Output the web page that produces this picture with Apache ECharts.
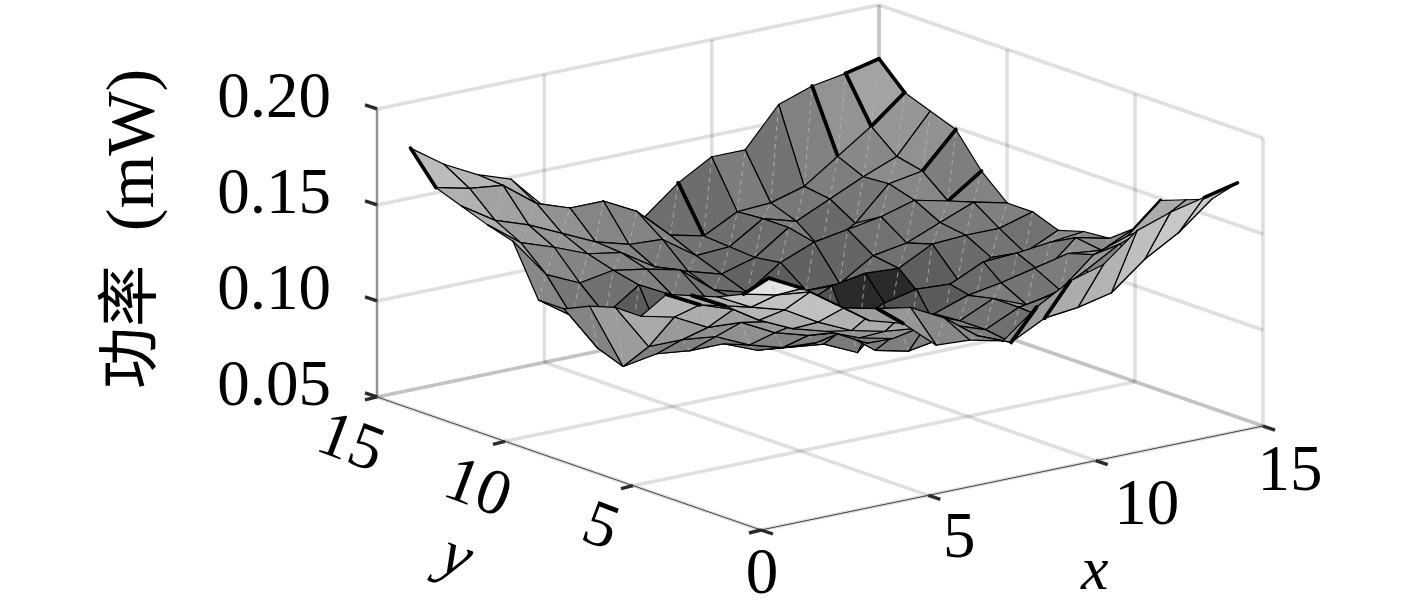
<!DOCTYPE html>
<html>
<head>
<meta charset="utf-8">
<title>功率</title>
<style>
  html, body { margin: 0; padding: 0; background: #fff; }
  #chart { width: 1417px; height: 602px; }
</style>
<script src="https://cdn.jsdelivr.net/npm/echarts@6/dist/echarts.min.js"></script>
</head>
<body>
<div id="chart"></div>
<script>
const xValues = [1, 2, 3, 4, 5, 6, 7, 8, 9, 10, 11, 12, 13, 14, 15]
const yValues = [1, 2, 3, 4, 5, 6, 7, 8, 9, 10, 11, 12, 13, 14, 15]

// power in mW, one row per y, columns follow xValues
const y1 = [.173, .164, .152, .140, .135, .120, .119, .115, .129, .139, .144, .158, .164, .168, .172]
const y2 = [.160, .156, .154, .142, .138, .135, .126, .113, .106, .115, .117, .121, .135, .145, .159]
const y3 = [.154, .145, .140, .130, .122, .118, .116, .114, .108, .116, .119, .128, .138, .144, .154]
const y4 = [.150, .141, .130, .122, .117, .110, .106, .115, .108, .116, .109, .113, .128, .134, .149]
const y5 = [.146, .137, .131, .121, .117, .108, .099, .102, .107, .113, .116, .120, .124, .122, .130]
const y6 = [.130, .126, .117, .116, .107, .102, .100, .087, .083, .086, .103, .103, .109, .124, .120]
const y7 = [.130, .106, .106, .104, .096, .091, .090, .096, .103, .107, .106, .114, .115, .117, .119]
const y8 = [.126, .091, .094, .092, .092, .085, .083, .081, .073, .090, .093, .100, .108, .107, .115]
const y9 = [.120, .096, .094, .090, .090, .090, .090, .095, .103, .106, .105, .114, .115, .115, .120]
const y10 = [.120, .108, .105, .117, .108, .103, .098, .094, .096, .096, .107, .110, .117, .124, .120]
const y11 = [.146, .125, .117, .120, .117, .113, .099, .094, .106, .113, .116, .119, .124, .120, .132]
const y12 = [.150, .137, .131, .124, .121, .110, .104, .099, .104, .116, .101, .111, .128, .131, .149]
const y13 = [.155, .144, .138, .130, .122, .117, .116, .104, .105, .116, .111, .119, .127, .134, .154]
const y14 = [.160, .156, .154, .141, .135, .135, .126, .110, .106, .115, .116, .121, .133, .145, .159]
const y15 = [.176, .164, .155, .149, .131, .124, .120, .115, .129, .139, .139, .159, .165, .168, .172]
const power = [y1, y2, y3, y4, y5, y6, y7, y8, y9, y10, y11, y12, y13, y14, y15]

const xTicks = [0, 5, 10, 15]
const yTicks = [0, 5, 10, 15]
const zTicks = [0.05, 0.10, 0.15, 0.20]
const zTickLabels = ['0.05', '0.10', '0.15', '0.20']

// edges printed heavier in the figure: [x1, y1, x2, y2]
const heavyEdges = [
  [1, 15, 1, 14], [9, 15, 9, 14], [13, 15, 13, 14], [14, 15, 14, 14], [15, 15, 15, 14],
  [14, 15, 15, 15], [14, 14, 15, 14], [14, 12, 15, 12], [14, 11, 15, 11],
  [1, 1, 2, 1], [1, 1, 1, 2], [1, 5, 2, 5], [1, 4, 2, 4], [5, 2, 5, 1],
  [9, 2, 9, 1], [10, 2, 10, 1], [15, 4, 15, 5], [14, 1, 15, 1]
]
// the nearly black cells in the middle of the bowl and the nearly white one at the near corner
const darkCells = ['9,8', '10,8']
const lightCells = ['1,1']

const serif = '"Liberation Serif", serif'

// oblique view of the box, the hidden axes below are in these projected units
const project = (x, y, z) => [
  x * 33.47 - y * 25.6,
  x * 6.93 + y * 8.87 + (z - 0.05) * 1920
]

const at = (x, y) => power[y - 1][x - 1]
const edgeKey = (x1, y1, x2, y2) => [Math.min(x1, x2), Math.min(y1, y2), Math.max(x1, x2), Math.max(y1, y2)].join()
const heavySet = new Set(heavyEdges.map(e => edgeKey(...e)))

// grey comes from height plus the slope of the cell, undersides a bit lighter
const shade = (x, y) => {
  const z00 = at(x, y), z10 = at(x + 1, y), z01 = at(x, y + 1), z11 = at(x + 1, y + 1)
  const fx = ((z10 - z00) + (z11 - z01)) / 2 * 1920
  const fy = ((z01 - z00) + (z11 - z10)) / 2 * 1920
  const zm = (z00 + z10 + z01 + z11) / 4
  if (darkCells.includes(`${x},${y}`)) return '#2a2a2a'
  if (lightCells.includes(`${x},${y}`)) return '#e4e4e4'
  let g = 0.42 + 5 * (zm - 0.1) - 0.002 * Math.max(-25, Math.min(25, fx)) - 0.0015 * fy
  if (fy < -8.87) g += 0.05
  g = Math.max(0.32, Math.min(0.9, g))
  const c = Math.round(g * 255)
  return `rgb(${c},${c},${c})`
}

const cells = []
for (let j = yValues.length - 2; j >= 0; j--) {
  for (let i = xValues.length - 2; i >= 0; i--) {
    cells.push([xValues[i], yValues[j]])
  }
}

const renderCell = (params, api) => {
  const x = api.value(0), y = api.value(1)
  const pt = (a, b) => api.coord(project(a, b, at(a, b)))
  const corners = [[x, y], [x + 1, y], [x + 1, y + 1], [x, y + 1]]
  const seamA = pt(x, y), seamB = pt(x + 1, y + 1)
  const children = [{
    type: 'polygon',
    shape: { points: corners.map(c => pt(c[0], c[1])) },
    style: { fill: shade(x, y) }
  }, {
    type: 'line',
    shape: { x1: seamA[0], y1: seamA[1], x2: seamB[0], y2: seamB[1] },
    style: { stroke: '#b4b4b4', lineWidth: 0.8, lineDash: [5, 4] }
  }]
  corners.forEach((c, k) => {
    const d = corners[(k + 1) % 4]
    const a = pt(c[0], c[1]), b = pt(d[0], d[1])
    const heavy = heavySet.has(edgeKey(c[0], c[1], d[0], d[1]))
    children.push({
      type: 'line',
      shape: { x1: a[0], y1: a[1], x2: b[0], y2: b[1] },
      style: { stroke: '#000', lineWidth: heavy ? 3.6 : 1.2, lineCap: 'round' }
    })
  })
  return { type: 'group', children }
}

const xMax = 15, yMax = 15
const zMin = zTicks[0], zMax = zTicks[zTicks.length - 1]

const segment = (api, a, b, style) => {
  const p = api.coord(project(...a)), q = api.coord(project(...b))
  return { type: 'line', shape: { x1: p[0], y1: p[1], x2: q[0], y2: q[1] }, style }
}

const gridStyle = { stroke: 'rgba(0,0,0,0.125)', lineWidth: 3.6 }
const axisStyle = { stroke: '#444', lineWidth: 1 }
const tickStyle = { stroke: '#2b2b2b', lineWidth: 3.4 }

const renderBox = (params, api) => {
  const children = []
  xTicks.forEach(t => {
    children.push(segment(api, [t, 0, zMin], [t, yMax, zMin], gridStyle))
    children.push(segment(api, [t, yMax, zMin], [t, yMax, zMax], gridStyle))
  })
  yTicks.forEach(t => {
    children.push(segment(api, [0, t, zMin], [xMax, t, zMin], gridStyle))
    children.push(segment(api, [xMax, t, zMin], [xMax, t, zMax], gridStyle))
  })
  zTicks.forEach(t => {
    children.push(segment(api, [0, yMax, t], [xMax, yMax, t], gridStyle))
    children.push(segment(api, [xMax, yMax, t], [xMax, 0, t], gridStyle))
  })
  children.push(segment(api, [0, 0, zMin], [xMax, 0, zMin], axisStyle))
  children.push(segment(api, [0, 0, zMin], [0, yMax, zMin], axisStyle))
  children.push(segment(api, [0, yMax, zMin], [0, yMax, zMax], axisStyle))
  return { type: 'group', children }
}

const tickMark = (p, dx, dy) => ({
  type: 'line',
  shape: { x1: p[0], y1: p[1], x2: p[0] + dx, y2: p[1] + dy },
  style: tickStyle
})

const label = (text, pos, dx, dy, font, extra) => ({
  type: 'text',
  x: pos[0] + dx,
  y: pos[1] + dy,
  rotation: (extra && extra.rotation) || 0,
  style: {
    text,
    fill: '#000',
    font,
    align: (extra && extra.align) || 'center',
    verticalAlign: 'middle'
  }
})

const xLabelOffset = [[1, 46], [31, 45], [51, 46], [27, 47]]
const yLabelOffset = [[0, 0], [-33, 43], [-28, 49], [-27, 48]]
const tickFont = `65px ${serif}`

const renderAxes = (params, api) => {
  const children = []
  xTicks.forEach((t, i) => {
    const p = api.coord(project(t, 0, zMin))
    children.push(tickMark(p, 12, 4))
    children.push(label(String(t), p, xLabelOffset[i][0], xLabelOffset[i][1], tickFont))
  })
  yTicks.forEach((t, i) => {
    const p = api.coord(project(0, t, zMin))
    children.push(tickMark(p, -12, 3))
    if (t > 0) {
      children.push(label(String(t), p, yLabelOffset[i][0], yLabelOffset[i][1], tickFont, { rotation: -0.36 }))
    }
  })
  zTicks.forEach((t, i) => {
    const p = api.coord(project(0, yMax, t))
    children.push(tickMark(p, -12, -4))
    children.push(label(zTickLabels[i], p, -46, -9, tickFont, { align: 'right' }))
  })
  const xName = api.coord(project(10, 0, zMin))
  children.push(label('x', xName, -1, 112, `italic 62px ${serif}`))
  const yName = api.coord(project(0, 7.5, zMin))
  children.push(label('y', yName, -113, 95, `italic 64px ${serif}`, { rotation: -0.36 }))
  children.push(label('功率', [127, 327], 0, 0, '62px "Noto Sans CJK SC"', { rotation: Math.PI / 2 }))
  children.push(label('(mW)', [135, 150], 0, 0, `68px ${serif}`, { rotation: Math.PI / 2 }))
  return { type: 'group', children, silent: true }
}

const chartEl = document.getElementById('chart')
const chart = echarts.init(chartEl, undefined, { renderer: 'canvas' })

chart.setOption({
  animation: false,
  backgroundColor: '#fff',
  grid: { left: 0, right: 0, top: 0, bottom: 0 },
  xAxis: { type: 'value', min: -761, max: 656, show: false },
  yAxis: { type: 'value', min: -72, max: 530, show: false },
  series: [
    { type: 'custom', z: 1, clip: false, silent: true, coordinateSystem: 'cartesian2d', data: [[0, 0]], renderItem: renderBox },
    { type: 'custom', z: 2, clip: false, silent: true, coordinateSystem: 'cartesian2d', data: [[0, 0]], renderItem: renderAxes },
    { type: 'custom', z: 3, clip: false, silent: true, coordinateSystem: 'cartesian2d', data: cells, renderItem: renderCell }
  ]
})

window.addEventListener('resize', () => chart.resize())
</script>
</body>
</html>
